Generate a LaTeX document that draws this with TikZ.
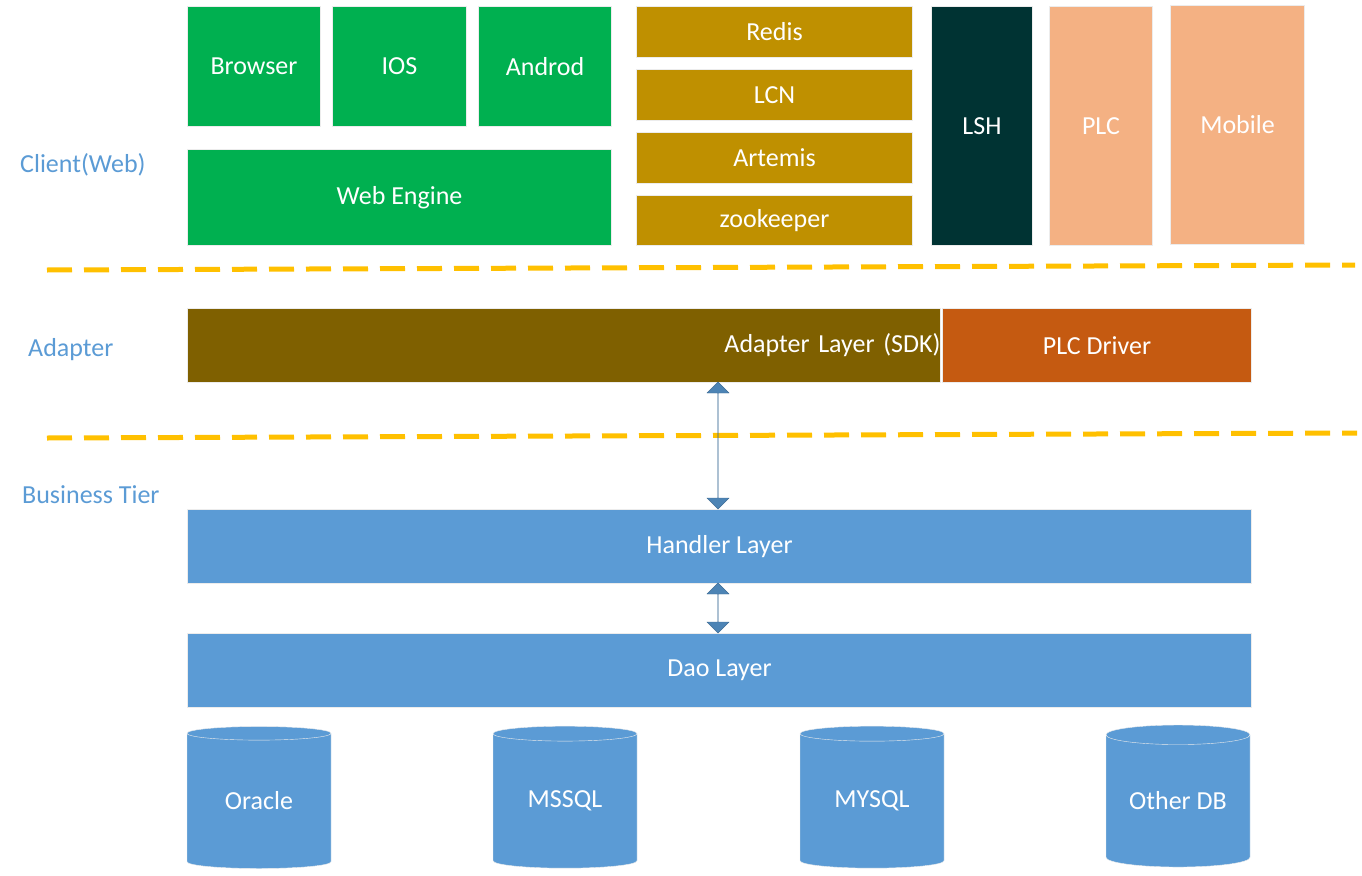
\documentclass[tikz,border=0pt]{standalone}
\usepackage{fontspec}
\setmainfont{Carlito}
\usetikzlibrary{shapes.geometric,shapes.arrows}
\definecolor{cgreen}{HTML}{00B050}
\definecolor{cgold}{HTML}{BF9000}
\definecolor{cdark}{HTML}{003333}
\definecolor{cpeach}{HTML}{F4B183}
\definecolor{cbrown}{HTML}{7F6000}
\definecolor{corange}{HTML}{C55A11}
\definecolor{cblue}{HTML}{5B9BD5}
\definecolor{cline}{HTML}{FFC000}
\tikzset{
  box/.style={draw=white!85!gray, line width=1pt, anchor=north west, inner sep=0pt, text=white, font=\fontsize{26}{30}\selectfont},
  tier/.style={text=cblue, anchor=west, inner sep=0pt, font=\fontsize{26}{30}\selectfont},
  sep/.style={cline, line width=5pt, dash pattern=on 25pt off 12pt},
  db/.style={cylinder, shape border rotate=90, aspect=0.2, draw=white!85!gray, fill=cblue, text=white, minimum width=144pt, minimum height=142pt, inner sep=0pt, font=\fontsize{26}{30}\selectfont},
  link/.style={double arrow, shape border rotate=90, fill=cblue!85!black, draw=cblue!70!black, double arrow head extend=10pt, minimum width=22pt, inner sep=0pt}
}
\begin{document}
\begin{tikzpicture}[x=1pt,y=1pt,yscale=-1]
\useasboundingbox (0,0) rectangle (1362,875);

% client row
\node[box, fill=cgreen, minimum width=133pt, minimum height=120pt] (browser) at (187,6) {Browser};
\node[box, fill=cgreen, minimum width=134pt, minimum height=120pt] (ios) at (332,6) {IOS};
\node[box, fill=cgreen, minimum width=133pt, minimum height=120pt] (android) at (478,6) {Androd};
\node[box, fill=cgreen, minimum width=424pt, minimum height=96pt] (web) at (187,149) {Web Engine};
\node[box, fill=cgold, minimum width=276pt, minimum height=51pt] (redis) at (636,6) {Redis};
\node[box, fill=cgold, minimum width=276pt, minimum height=51pt] (lcn) at (636,69) {LCN};
\node[box, fill=cgold, minimum width=276pt, minimum height=51pt] (artemis) at (636,132) {Artemis};
\node[box, fill=cgold, minimum width=276pt, minimum height=50pt] (zk) at (636,195) {zookeeper};
\node[box, fill=cdark, minimum width=101pt, minimum height=239pt] (lsh) at (931,6) {LSH};
\node[box, fill=cpeach, minimum width=103pt, minimum height=239pt] (plc) at (1049,6) {PLC};
\node[box, fill=cpeach, minimum width=134pt, minimum height=239pt] (mobile) at (1170,5) {Mobile};

% separators
\draw[sep] (47,270) -- (1355,265);
\draw[sep] (47,438) -- (1357,433);

% adapter row
\node[box, fill=cbrown, minimum width=753pt, minimum height=74pt, text width=753pt, align=right] (adapter) at (187,308) {Adapter Layer (SDK)\hspace{96pt}};
\node[box, fill=corange, minimum width=309pt, minimum height=74pt] (driver) at (942,308) {PLC Driver};

% business tier
\node[box, fill=cblue, minimum width=1064pt, minimum height=74pt] (handler) at (187,509) {Handler Layer};
\node[box, fill=cblue, minimum width=1064pt, minimum height=74pt] (dao) at (187,633) {Dao Layer};

\node[link, minimum height=127pt] (a1) at (718,445.5) {};
\node[link, minimum height=50pt] (a2) at (718,608) {};

% databases
\node[db] (oracle) at (259,801) {Oracle};
\node[db] (mssql) at (565,801) {MSSQL};
\node[db] (mysql) at (872,801) {MYSQL};
\node[db] (other) at (1178,801) {Other DB};

% tier labels
\node[tier] (lclient) at (20,165) {Client(Web)};
\node[tier] (ladapter) at (28,350) {Adapter};
\node[tier] (lbiz) at (22,495) {Business Tier};
\end{tikzpicture}
\end{document}
